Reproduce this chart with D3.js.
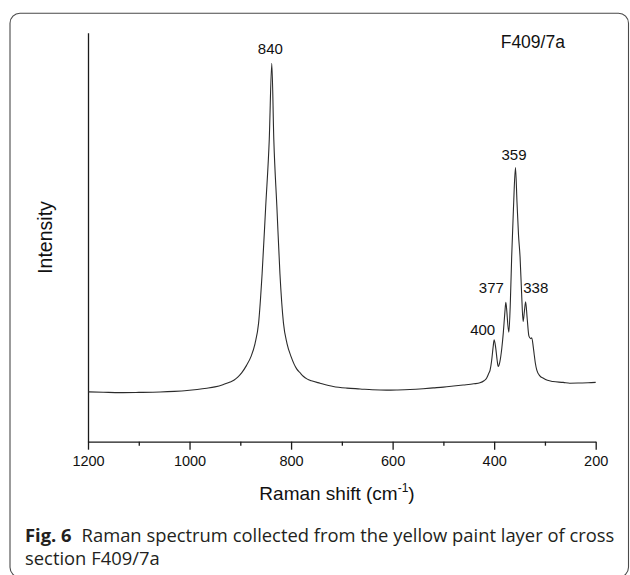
<!DOCTYPE html>
<html>
<head>
<meta charset="utf-8">
<script src="https://cdn.jsdelivr.net/npm/d3@7/dist/d3.min.js"></script>
<style>
  html, body { margin: 0; padding: 0; background: #fff; }
  svg { display: block; }
</style>
</head>
<body>
<svg id="chart" width="630" height="575"></svg>
<script>
// ---- Data ----
const ramanShift = [1200,1170,1137,1100,1058,1030,1005,985,966,950,933,920,912,905,897,888,879,871,864,857,850,843,838,834,828,822,815,808,800,789,782,776,768,760,743,717,690,664,640,612,590,566,540,520,500,480,461,440,428,420,415,411,408,405,402,400,397,394,392,389,385,382,379,377,375,373,371,368,365.5,362,358,355,352,349,346,343,340.5,338,335,331.5,328,326,323,321.5,319,316,310,303,295,284,264,251,230,215,200];
const intensity  = [122,121,120,120.5,121.5,123,125,127.5,130.6,134,140,146,151,158,169,186,208,240,290,412,575,738,925,738,575,412,290,240,208,178,168,160,153,149,143,135,131,129,127,126,126.5,127.5,129.5,131.5,133.5,136,138.5,141.5,144,149,155,166,175,198,232,249,230,198,184,194,228,266,315,341,318,285,268,345,452,570,670,585,505,452,365,294,318,342,302,258,252,254,232,217,193,175,161,155,150,147,145,143,143.5,144,145];
const xTickValues = [1200,1000,800,600,400,200];
const xMinorTicks = [1100,900,700,500,300];
const peakNames = ["840","400","377","359","338"];
const peakShift = [838,400,377,358,338];
const sampleName = "F409/7a";
const xTitle = "Raman shift (cm";
const yTitle = "Intensity";
const captionBold = "Fig. 6";
const captionLine1 = "Raman spectrum collected from the yellow paint layer of cross";
const captionLine2 = "section F409/7a";

// ---- Layout ----
const svg = d3.select("#chart");
const X0 = 88, X1 = 595.7, YT = 32.7, YB = 441.7;
const x = d3.scaleLinear().domain([1200, 200]).range([X0, X1]);
const y = d3.scaleLinear().domain([0, 1000]).range([YB, YT]);
const axisColor = "#1a1a1a";

// Frame
svg.append("rect")
  .attr("x", 10).attr("y", 13.3)
  .attr("width", 618.5).attr("height", 564)
  .attr("rx", 10).attr("ry", 10)
  .attr("fill", "none").attr("stroke", "#4a4a4a").attr("stroke-width", 1.1);

// X axis (major)
const xAxis = d3.axisBottom(x).tickValues(xTickValues).tickFormat(d3.format("d"))
  .tickSize(8).tickSizeOuter(0).tickPadding(6);
const gx = svg.append("g").attr("transform", `translate(0,${YB})`).call(xAxis);
gx.select(".domain").attr("stroke", axisColor).attr("stroke-width", 1.3);
gx.selectAll(".tick line").attr("stroke", axisColor).attr("stroke-width", 1.3);
gx.selectAll(".tick text")
  .attr("fill", "#111")
  .style("font-family", "'Liberation Sans', Arial, sans-serif")
  .style("font-size", "14.5px");
// X axis (minor)
const xAxisMinor = d3.axisBottom(x).tickValues(xMinorTicks).tickSize(4).tickFormat("");
const gxm = svg.append("g").attr("transform", `translate(0,${YB})`).call(xAxisMinor);
gxm.select(".domain").remove();
gxm.selectAll(".tick line").attr("stroke", axisColor).attr("stroke-width", 1.3);

// Y axis (line only)
const yAxis = d3.axisLeft(y).tickValues([]).tickSizeOuter(0);
const gy = svg.append("g").attr("transform", `translate(${X0},0)`).call(yAxis);
gy.select(".domain").attr("stroke", axisColor).attr("stroke-width", 1.3);

// Spectrum
const pts = ramanShift.map((s, i) => [s, intensity[i]]);
const line = d3.line().x(d => x(d[0])).y(d => y(d[1])).curve(d3.curveMonotoneX);
svg.append("path").datum(pts)
  .attr("d", line)
  .attr("fill", "none").attr("stroke", "#2b2b2b").attr("stroke-width", 1.1);

// Peak labels
const labelFont = "'Liberation Sans', Arial, sans-serif";
const labelStyle = { "840": { anchor: "middle", dx: -1.4, dy: -9 },
                     "400": { anchor: "end", dx: 1, dy: -5 },
                     "377": { anchor: "end", dx: -2, dy: -9 },
                     "359": { anchor: "middle", dx: -1.5, dy: -7.7 },
                     "338": { anchor: "start", dx: -2.4, dy: -8.4 } };
peakNames.forEach((name, i) => {
  const s = peakShift[i];
  const idx = ramanShift.indexOf(s);
  const st = labelStyle[name];
  svg.append("text")
    .attr("x", x(s) + st.dx)
    .attr("y", y(intensity[idx]) + st.dy)
    .attr("text-anchor", st.anchor)
    .style("font-family", labelFont).style("font-size", "15px")
    .attr("fill", "#111")
    .text(name);
});

// Sample name
svg.append("text").attr("x", 500.7).attr("y", 47.7)
  .style("font-family", labelFont).style("font-size", "17.5px")
  .attr("fill", "#111").text(sampleName);

// Axis titles
const xt = svg.append("text").attr("x", 337).attr("y", 500)
  .attr("text-anchor", "middle")
  .style("font-family", labelFont).style("font-size", "19px").attr("fill", "#111");
xt.append("tspan").text(xTitle);
xt.append("tspan").attr("dy", -8).style("font-size", "12px").text("-1");
xt.append("tspan").attr("dy", 8).text(")");

svg.append("text")
  .attr("transform", "translate(52,237.5) rotate(-90)")
  .attr("text-anchor", "middle")
  .style("font-family", labelFont).style("font-size", "19.5px").attr("fill", "#111")
  .text(yTitle);

// Caption
const capFont = "'Open Sans', 'Noto Sans', sans-serif";
const cap1 = svg.append("text").attr("x", 25).attr("y", 541.7)
  .style("font-family", capFont).style("font-size", "17px").attr("fill", "#231f20");
cap1.append("tspan").style("font-weight", "bold").text(captionBold);
cap1.append("tspan").attr("dx", 10).text(captionLine1);
svg.append("text").attr("x", 25).attr("y", 565)
  .style("font-family", capFont).style("font-size", "17px").attr("fill", "#231f20")
  .text(captionLine2);

// Fit caption line 1 width to the reference (~583 px of glyphs)
const w1 = cap1.node().getComputedTextLength();
const target = 580;
if (w1 > 0) {
  const fs = 17 * target / w1;
  svg.selectAll("text").filter(function() { return this.style.fontFamily.indexOf("Open Sans") >= 0; })
    .style("font-size", fs + "px");
}
</script>
</body>
</html>
